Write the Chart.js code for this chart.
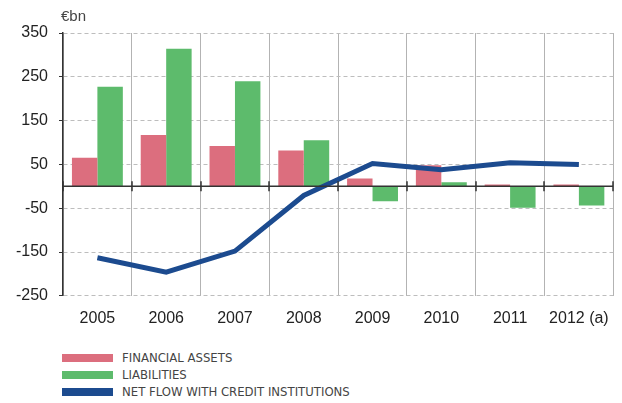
<!DOCTYPE html>
<html>
<head>
<meta charset="utf-8">
<script src="https://cdn.jsdelivr.net/npm/chart.js@4.4.1/dist/chart.umd.min.js"></script>
<style>
    body { margin: 0; background: #fff; width: 622px; height: 403px; overflow: hidden; position: relative; }
    #wrap { position: absolute; left: 0; top: 0; width: 622px; height: 341px; }
    #legend { position: absolute; left: 62px; top: 349px; font-family: "Liberation Sans Narrow", "DejaVu Sans Condensed", sans-serif; font-size: 13px; color: #444; }
    .item { height: 17px; display: flex; align-items: center; }
    .swatch { width: 51px; height: 8px; margin-right: 9px; }
</style>
</head>
<body>
<div id="wrap"><canvas id="chart"></canvas></div>
<div id="legend"></div>
<script>
// data (€bn)
const years = ['2005', '2006', '2007', '2008', '2009', '2010', '2011', '2012 (a)'];
const financialAssets = [65, 117, 92, 82, 18, 48, 4, 4];
const liabilities = [227, 314, 240, 105, -34, 9, -49, -44];
const netFlow = [-163, -196, -148, -21, 52, 38, 54, 50];
const yTicks = [-250, -150, -50, 50, 150, 250, 350];

const fontFamily = '"Liberation Sans", Arial, sans-serif';

// solid zero line with small tick marks at the category boundaries, plus the unit label
const zeroLine = {
    id: 'zeroLine',
    afterDatasetsDraw(chart) {
        const ctx = chart.ctx;
        const area = chart.chartArea;
        const y0 = chart.scales.y.getPixelForValue(0);
        const xs = chart.scales.x;
        ctx.save();
        ctx.strokeStyle = '#333';
        ctx.lineWidth = 1.5;
        ctx.beginPath();
        ctx.moveTo(area.left, y0);
        ctx.lineTo(area.right, y0);
        for (let i = 0; i <= years.length; i++) {
            const x = Math.round(xs.getPixelForValue(i - 0.5));
            ctx.moveTo(x, y0 - 5);
            ctx.lineTo(x, y0 + 5);
        }
        ctx.stroke();
        ctx.restore();
    },
    afterDraw(chart) {
        const ctx = chart.ctx;
        ctx.save();
        ctx.fillStyle = '#444';
        ctx.font = '15px ' + fontFamily;
        ctx.textBaseline = 'middle';
        ctx.fillText('€bn', 61, 17);
        ctx.restore();
    }
};

const chart = new Chart(document.getElementById('chart'), {
    data: {
        labels: years,
        datasets: [{
            type: 'line',
            label: 'NET FLOW WITH CREDIT INSTITUTIONS',
            data: netFlow,
            borderColor: '#1c4b8f',
            backgroundColor: '#1c4b8f',
            borderWidth: 5,
            pointRadius: 0,
            tension: 0,
            order: 0
        }, {
            type: 'bar',
            label: 'FINANCIAL ASSETS',
            data: financialAssets,
            backgroundColor: '#dc6e7e',
            categoryPercentage: 0.74,
            barPercentage: 1,
            order: 1
        }, {
            type: 'bar',
            label: 'LIABILITIES',
            data: liabilities,
            backgroundColor: '#5dbb6c',
            categoryPercentage: 0.74,
            barPercentage: 1,
            order: 1
        }]
    },
    options: {
        responsive: true,
        maintainAspectRatio: false,
        animation: false,
        layout: { padding: { top: 33, right: 5, left: 0, bottom: 0 } },
        plugins: {
            legend: { display: false },
            tooltip: { enabled: false }
        },
        scales: {
            x: {
                offset: true,
                grid: { color: '#b3b3b3', lineWidth: 1, drawTicks: false, offset: true },
                border: { display: false },
                ticks: { color: '#222', font: { family: fontFamily, size: 16 }, padding: 13 }
            },
            y: {
                min: -250,
                max: 350,
                afterBuildTicks(scale) {
                    scale.ticks = yTicks.map(v => ({ value: v }));
                },
                afterFit(scale) {
                    scale.width = 63;
                },
                grid: { color: '#bdbdbd', lineWidth: 1, tickLength: 4, tickColor: '#333' },
                border: { display: true, color: '#333', width: 1.5, dash: [4, 3] },
                ticks: { color: '#222', font: { family: fontFamily, size: 16 }, padding: 11 }
            }
        }
    },
    plugins: [zeroLine]
});

// legend built from the chart's datasets, in the reference order
const legendOrder = [1, 2, 0];
const legend = document.getElementById('legend');
legendOrder.forEach(i => {
    const ds = chart.data.datasets[i];
    const item = document.createElement('div');
    item.className = 'item';
    const sw = document.createElement('div');
    sw.className = 'swatch';
    sw.style.background = ds.type === 'line' ? ds.borderColor : ds.backgroundColor;
    const txt = document.createElement('span');
    txt.textContent = ds.label;
    item.appendChild(sw);
    item.appendChild(txt);
    legend.appendChild(item);
});
</script>
</body>
</html>
